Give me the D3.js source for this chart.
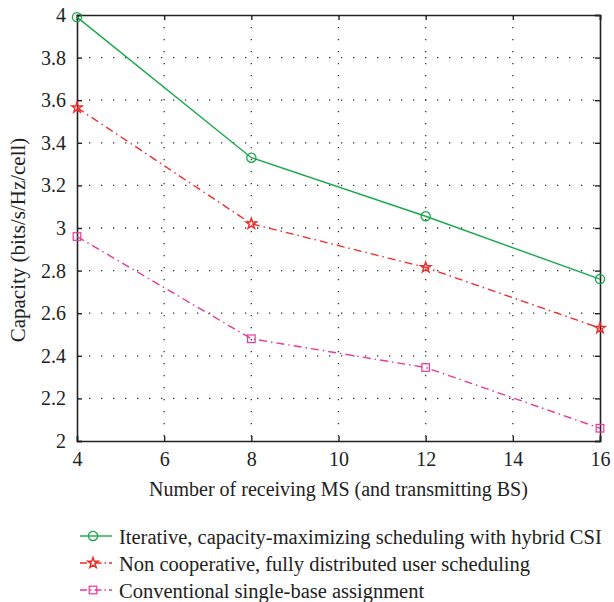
<!DOCTYPE html>
<html>
<head>
<meta charset="utf-8">
<script src="https://cdn.jsdelivr.net/npm/d3@7"></script>
<style>
  body { margin: 0; background: #fff; }
  text { font-family: "Liberation Serif", "DejaVu Serif", serif; fill: #222; }
</style>
</head>
<body>
<div id="chart"></div>
<script>
/** chart data. */
let msCounts = [4, 8, 12, 16];
let iterativeCap = [3.99, 3.33, 3.055, 2.76];
let nonCoopCap = [3.565, 3.02, 2.815, 2.53];
let conventionalCap = [2.96, 2.48, 2.345, 2.06];
let xTicks = [4, 6, 8, 10, 12, 14, 16];
let yTicks = [2, 2.2, 2.4, 2.6, 2.8, 3, 3.2, 3.4, 3.6, 3.8, 4];
let seriesNames = [
  'Iterative, capacity-maximizing scheduling with hybrid CSI',
  'Non cooperative, fully distributed user scheduling',
  'Conventional single-base assignment'
];

let width = 614;
let height = 602;
let margin = {left: 77, right: 600, top: 15, bottom: 441};

let svg = d3.select('#chart')
  .append('svg')
  .attr('width', width)
  .attr('height', height);

let x = d3.scaleLinear().domain([4, 16]).range([margin.left, margin.right]);
let y = d3.scaleLinear().domain([2, 4]).range([margin.bottom, margin.top]);

/** dotted grid */
svg.append('g').selectAll('line')
  .data(xTicks.slice(1, -1))
  .enter().append('line')
  .attr('x1', d => x(d)).attr('x2', d => x(d))
  .attr('y1', margin.top).attr('y2', margin.bottom)
  .attr('stroke', '#333').attr('stroke-width', 1.3)
  .attr('stroke-dasharray', '1.3,10.7');
svg.append('g').selectAll('line')
  .data(yTicks.slice(1, -1))
  .enter().append('line')
  .attr('y1', d => y(d)).attr('y2', d => y(d))
  .attr('x1', margin.left).attr('x2', margin.right)
  .attr('stroke', '#333').attr('stroke-width', 1.3)
  .attr('stroke-dasharray', '1.3,10.7');

/** axes, ticks pointing inward on all four sides */
let fmt = d3.format('~g');
svg.append('g')
  .attr('transform', `translate(0,${margin.bottom})`)
  .call(d3.axisBottom(x).tickValues(xTicks).tickSize(-5).tickPadding(11).tickFormat(fmt));
svg.append('g')
  .attr('transform', `translate(0,${margin.top})`)
  .call(d3.axisTop(x).tickValues(xTicks).tickSize(-5).tickFormat(''));
svg.append('g')
  .attr('transform', `translate(${margin.left},0)`)
  .call(d3.axisLeft(y).tickValues(yTicks).tickSize(-5).tickPadding(11).tickFormat(fmt));
svg.append('g')
  .attr('transform', `translate(${margin.right},0)`)
  .call(d3.axisRight(y).tickValues(yTicks).tickSize(-5).tickFormat(''));

svg.selectAll('.domain').attr('stroke', '#222').attr('stroke-width', 1.6);
svg.selectAll('.tick line').attr('stroke', '#222').attr('stroke-width', 1.4);
svg.selectAll('.tick text').style('font-size', '20px').attr('fill', '#222');

/** axis titles */
svg.append('text')
  .attr('x', (margin.left + margin.right) / 2)
  .attr('y', 496)
  .attr('text-anchor', 'middle')
  .style('font-size', '20px')
  .text('Number of receiving MS (and transmitting BS)');
svg.append('text')
  .attr('transform', 'translate(25,240) rotate(-90)')
  .attr('text-anchor', 'middle')
  .style('font-size', '21px')
  .text('Capacity (bits/s/Hz/cell)');

/** series */
let series = [
  {name: seriesNames[0], values: iterativeCap, color: '#18a84a', dash: null, marker: 'circle'},
  {name: seriesNames[1], values: nonCoopCap, color: '#ee2b2b', dash: '8,4,1.5,4', marker: 'star'},
  {name: seriesNames[2], values: conventionalCap, color: '#e8389a', dash: '8,4,1.5,4', marker: 'square'}
];

let line = d3.line().x(d => x(d[0])).y(d => y(d[1]));

let drawMarker = function (g, kind, color) {
  if (kind === 'circle') {
    g.append('circle').attr('r', 4.6).attr('fill', 'none')
      .attr('stroke', color).attr('stroke-width', 1.3);
  } else if (kind === 'star') {
    g.append('path').attr('d', d3.symbol().type(d3.symbolStar).size(34)())
      .attr('fill', 'none').attr('stroke', color).attr('stroke-width', 1.4);
  } else {
    g.append('rect').attr('x', -3.8).attr('y', -3.8).attr('width', 7.6).attr('height', 7.6)
      .attr('fill', 'none').attr('stroke', color).attr('stroke-width', 1.2);
  }
};

series.forEach(function (s) {
  let pts = msCounts.map((m, i) => [m, s.values[i]]);
  svg.append('path')
    .datum(pts)
    .attr('d', line)
    .attr('fill', 'none')
    .attr('stroke', s.color)
    .attr('stroke-width', 1.4)
    .attr('stroke-dasharray', s.dash);
  pts.forEach(function (p) {
    let g = svg.append('g').attr('transform', `translate(${x(p[0])},${y(p[1])})`);
    drawMarker(g, s.marker, s.color);
  });
});

/** legend */
let legend = svg.append('g');
series.forEach(function (s, i) {
  let ly = 536 + i * 27;
  legend.append('line')
    .attr('x1', 80).attr('x2', 112).attr('y1', ly).attr('y2', ly)
    .attr('stroke', s.color).attr('stroke-width', 1.4)
    .attr('stroke-dasharray', s.dash ? '7,3,1.5,3' : null);
  let g = legend.append('g').attr('transform', `translate(93,${ly})`);
  drawMarker(g, s.marker, s.color);
  legend.append('text')
    .attr('x', 119).attr('y', ly + 8)
    .style('font-size', '20.5px')
    .text(s.name);
});
</script>
</body>
</html>
